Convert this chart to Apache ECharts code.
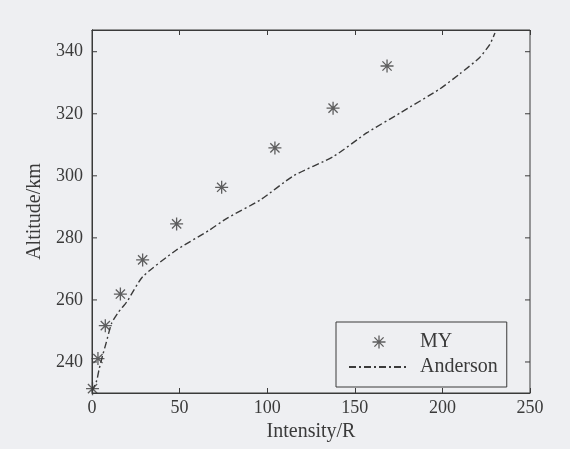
<!DOCTYPE html>
<html><head><meta charset="utf-8">
<script src="https://cdn.jsdelivr.net/npm/echarts@6/dist/echarts.min.js"></script>
<style>html,body{margin:0;padding:0;background:#eeeff2;}#c{width:570px;height:449px;}</style>
</head><body><div id="c"></div>
<script>
// MY observations: [intensity (R), altitude (km)]
const myIntensity = [0.3, 3.4, 7.6, 16.2, 28.9, 48.3, 74, 104.4, 137.6, 168.4];
const myAltitude  = [231.4, 241.1, 251.7, 261.9, 272.9, 284.5, 296.3, 309, 321.8, 335.4];
// Anderson curve
const andIntensity = [0, 2.7, 4, 6, 8, 11.2, 15, 20, 29, 48, 67, 77, 96, 115, 138, 157, 176, 198.5, 210, 221, 227, 230];
const andAltitude  = [230.5, 234, 237.5, 242, 246, 252.5, 256, 259.5, 267.5, 276, 282.5, 286.3, 292.2, 300, 306.3, 313.9, 320.3, 328, 332.9, 338, 342.3, 346];
const xTicks = [0, 50, 100, 150, 200, 250];
const yTicks = [240, 260, 280, 300, 320, 340];

const ink = '#3a3a3a';
const font = 'Liberation Serif';
const star = 'path://M5 0L5 10M0 5L10 5M1.46 1.46L8.54 8.54M8.54 1.46L1.46 8.54';
const xMin = xTicks[0], xMax = xTicks[xTicks.length - 1];
const chart = echarts.init(document.getElementById('c'));
const axLine = {show: true, lineStyle: {color: ink, width: 1}};
const tick = {show: true, inside: true, length: 5, lineStyle: {color: ink}};
chart.setOption({
  backgroundColor: '#eeeff2',
  animation: false,
  grid: {left: 92, right: 40, top: 30, bottom: 56, show: true, borderColor: ink, borderWidth: 1, backgroundColor: 'transparent'},
  legend: {
    left: 336, top: 322, orient: 'vertical', itemGap: 5,
    padding: [10, 9, 10, 12], borderColor: ink, borderWidth: 1,
    itemWidth: 60, itemHeight: 13,
    textStyle: {fontFamily: font, fontSize: 20, color: ink, padding: [0, 0, 0, 6]},
    data: [
      {name: 'MY', icon: star, itemStyle: {color: 'none', borderColor: ink, borderWidth: 1.3}},
      {name: 'Anderson', itemStyle: {color: 'transparent', borderWidth: 0}}
    ]
  },
  xAxis: [{
    type: 'value', min: xMin, max: xMax, interval: 50,
    name: 'Intensity/R', nameLocation: 'middle', nameGap: 28,
    nameTextStyle: {fontFamily: font, fontSize: 20, color: ink},
    axisLine: axLine, axisTick: tick,
    axisLabel: {fontFamily: font, fontSize: 18, color: ink, margin: 6},
    splitLine: {show: false}
  }, {
    type: 'value', min: xMin, max: xMax, interval: 50, position: 'top',
    axisLine: axLine, axisTick: tick,
    axisLabel: {show: false}, splitLine: {show: false}
  }],
  yAxis: [{
    type: 'value', min: 230, max: 347,
    name: 'Altitude/km', nameLocation: 'middle', nameGap: 46, nameRotate: 90,
    nameTextStyle: {fontFamily: font, fontSize: 20, color: ink},
    axisLine: axLine, axisTick: {show: false},
    axisLabel: {fontFamily: font, fontSize: 18, color: ink, margin: 9, customValues: yTicks},
    splitLine: {show: false}
  }, {
    type: 'value', min: 230, max: 347, position: 'right',
    axisLine: axLine, axisTick: {show: false},
    axisLabel: {show: false}, splitLine: {show: false}
  }],
  series: [{
    name: 'MY', type: 'scatter', symbol: star, symbolSize: 13,
    itemStyle: {color: 'none', borderColor: ink, borderWidth: 1.3},
    data: myIntensity.map((x, i) => [x, myAltitude[i]])
  }, {
    name: 'Anderson', type: 'line', showSymbol: false, symbol: 'none', smooth: 0.2,
    lineStyle: {color: ink, width: 1.4, type: [7, 3, 2, 3]},
    itemStyle: {color: ink},
    data: andIntensity.map((x, i) => [x, andAltitude[i]])
  }, {
    // inside y-axis tick marks on left and right frame edges
    name: 'yticks', type: 'custom', silent: true, clip: false,
    encode: {x: 0, y: 1},
    data: yTicks.map(v => [xMin, v]),
    renderItem: (params, api) => {
      const l = api.coord([xMin, api.value(1)]);
      const r = api.coord([xMax, api.value(1)]);
      const st = {stroke: ink, lineWidth: 1};
      return {type: 'group', children: [
        {type: 'line', shape: {x1: l[0], y1: l[1], x2: l[0] + 5, y2: l[1]}, style: st},
        {type: 'line', shape: {x1: r[0], y1: r[1], x2: r[0] - 5, y2: r[1]}, style: st}
      ]};
    }
  }]
});
</script></body></html>
